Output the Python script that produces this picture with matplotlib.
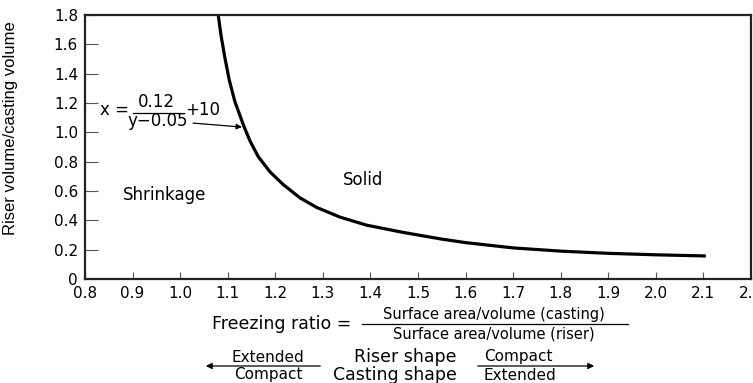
import matplotlib
matplotlib.use("Agg")
import matplotlib.pyplot as plt
import matplotlib.patches as mpatches

plt.rcParams['font.family'] = ['DejaVu Sans']

# Curve points
curve_x = [1.080, 1.086, 1.094, 1.103, 1.115, 1.133, 1.147, 1.164, 1.189, 1.217,
           1.252, 1.287, 1.336, 1.392, 1.462, 1.50, 1.55, 1.60, 1.70, 1.80,
           1.90, 2.00, 2.105]
curve_y = [1.80, 1.66, 1.51, 1.36, 1.21, 1.05, 0.94, 0.835, 0.730, 0.643,
           0.553, 0.488, 0.422, 0.367, 0.322, 0.300, 0.272, 0.248, 0.212, 0.190,
           0.175, 0.165, 0.157]

x_ticks = [0.8, 0.9, 1.0, 1.1, 1.2, 1.3, 1.4, 1.5, 1.6, 1.7, 1.8, 1.9, 2.0, 2.1, 2.2]
x_tick_labels = ["0.8", "0.9", "1.0", "1.1", "1.2", "1.3", "1.4", "1.5", "1.6",
                 "1.7", "1.8", "1.9", "2.0", "2.1", "2.2"]
y_ticks = [0, 0.2, 0.4, 0.6, 0.8, 1.0, 1.2, 1.4, 1.6, 1.8]
y_tick_labels = ["0", "0.2", "0.4", "0.6", "0.8", "1.0", "1.2", "1.4", "1.6", "1.8"]

W, H = 753, 383
fig = plt.figure(figsize=(W / 100, H / 100), dpi=100)
L, R, T, B = 85, 751, 15, 279
ax = fig.add_axes([L / W, 1 - B / H, (R - L) / W, (B - T) / H])

ax.plot(curve_x, curve_y, color='black', lw=2.3, solid_capstyle='butt',
        solid_joinstyle='round')
ax.set_xlim(0.8, 2.2)
ax.set_ylim(0, 1.8)
ax.set_xticks(x_ticks)
ax.set_xticklabels(x_tick_labels)
ax.set_yticks(y_ticks)
ax.set_yticklabels(y_tick_labels)
ax.tick_params(axis='x', direction='in', length=5, width=0.8, color='#555555',
               labelsize=11, pad=5)
ax.tick_params(axis='y', direction='in', length=9, width=0.8, color='#555555',
               labelsize=11, pad=5)
for s in ax.spines.values():
    s.set_linewidth(1.6)
    s.set_color('#222222')

ax.set_ylabel("Riser volume/casting volume",
              family=['Liberation Sans', 'DejaVu Sans'], fontsize=12)
ax.yaxis.set_label_coords(-(L - 18) / (R - L), (B - 128) / (B - T))

ax.text(0.968, 0.573, "Shrinkage", fontsize=12, ha='center', va='center')
ax.text(1.384, 0.675, "Solid", fontsize=12, ha='center', va='center')

# Equation annotation
ax.text(0.861, 1.152, "x =", fontsize=12, ha='center', va='center')
ax.plot([0.901, 0.9997], [1.132, 1.132], color='black', lw=0.9, clip_on=False)
ax.text(0.951, 1.205, "0.12", fontsize=12, ha='center', va='center')
ax.text(0.953, 1.075, "y\u22120.05", fontsize=12, ha='center', va='center')
ax.text(1.048, 1.152, "+10", fontsize=12, ha='center', va='center')
ax.annotate("", xy=(1.130, 1.036), xytext=(1.027, 1.063),
            arrowprops=dict(arrowstyle='-|>', color='black', lw=0.9,
                            mutation_scale=8, shrinkA=0, shrinkB=0))


def fx(px):
    return px / W


def fy(py):
    return 1 - py / H


# Bottom formula
fig.text(fx(282), fy(324), "Freezing ratio =", fontsize=12.5, ha='center', va='center')
fig.add_artist(plt.Line2D([fx(362), fx(628)], [fy(324), fy(324)], color='black', lw=0.9))
fig.text(fx(494), fy(314), "Surface area/volume (casting)", fontsize=10.5, ha='center', va='center')
fig.text(fx(494), fy(334), "Surface area/volume (riser)", fontsize=10.5, ha='center', va='center')

# Shape arrows
fig.text(fx(268), fy(357), "Extended", fontsize=11, ha='center', va='center')
fig.text(fx(268), fy(375), "Compact", fontsize=11, ha='center', va='center')
fig.text(fx(405), fy(357), "Riser shape", fontsize=12.5, ha='center', va='center')
fig.text(fx(395), fy(375), "Casting shape", fontsize=12.5, ha='center', va='center')
fig.text(fx(518), fy(356), "Compact", fontsize=11, ha='center', va='center')
fig.text(fx(520), fy(375), "Extended", fontsize=11, ha='center', va='center')
fig.add_artist(mpatches.FancyArrowPatch(
    (fx(323), fy(366)), (fx(203), fy(366)), transform=fig.transFigure,
    arrowstyle='-|>', mutation_scale=9, color='black', lw=0.9))
fig.add_artist(mpatches.FancyArrowPatch(
    (fx(475), fy(366)), (fx(597), fy(366)), transform=fig.transFigure,
    arrowstyle='-|>', mutation_scale=9, color='black', lw=0.9))

fig.savefig("out.png", dpi=100)
